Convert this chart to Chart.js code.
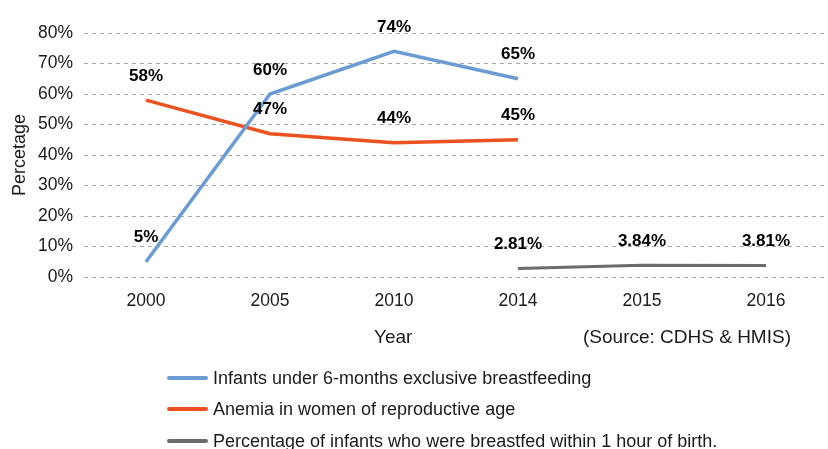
<!DOCTYPE html>
<html>
<head>
<meta charset="utf-8">
<script src="https://cdn.jsdelivr.net/npm/chart.js@4.4.1/dist/chart.umd.min.js"></script>
<style>
  body { margin: 0; background: #fff; font-family: "Liberation Sans", Arial, sans-serif; color: #1a1a1a; }
  #wrap { position: relative; width: 828px; height: 449px; }
  canvas { position: absolute; left: 0; top: 0; }
  .txt { position: absolute; font-size: 19px; white-space: nowrap; }
  .leg { position: absolute; left: 167px; font-size: 18px; white-space: nowrap; }
  .leg span { display: inline-block; width: 41px; height: 4px; border-radius: 2px; vertical-align: middle; margin-right: 5px; position: relative; top: -1px; }
</style>
</head>
<body>
<div id="wrap">
  <canvas id="chart" width="828" height="449"></canvas>
  <div class="txt" style="left:374px; top:326px;">Year</div>
  <div class="txt" style="left:583px; top:326px;">(Source: CDHS &amp; HMIS)</div>
  <div id="legend"></div>
</div>
<script>
const years = ["2000", "2005", "2010", "2014", "2015", "2016"];
const exclusiveBF = [5, 60, 74, 65, null, null];
const anemia = [58, 47, 44, 45, null, null];
const earlyBF = [null, null, null, 2.81, 3.84, 3.81];
const labelsBF = ["5%", "60%", "74%", "65%", "", ""];
const labelsAnemia = ["58%", "47%", "44%", "45%", "", ""];
const labelsEarly = ["", "", "", "2.81%", "3.84%", "3.81%"];

const seriesNames = [
  "Infants under 6-months exclusive breastfeeding",
  "Anemia in women of reproductive age",
  "Percentage of infants who were breastfed within 1 hour of birth."
];
const colors = ["#6A9BD3", "#EC5120", "#6B6B6B"];
const pointLabels = [labelsBF, labelsAnemia, labelsEarly];
const fontFam = "'Liberation Sans', Arial, sans-serif";

// data labels drawn above each point
const valueLabels = {
  id: "valueLabels",
  afterDatasetsDraw(chart) {
    const ctx = chart.ctx;
    ctx.save();
    ctx.font = "bold 17px " + fontFam;
    ctx.fillStyle = "#000";
    ctx.textAlign = "center";
    ctx.textBaseline = "middle";
    chart.data.datasets.forEach((ds, i) => {
      const meta = chart.getDatasetMeta(i);
      meta.data.forEach((pt, j) => {
        const txt = pointLabels[i][j];
        if (!txt || ds.data[j] == null) return;
        ctx.fillText(txt, pt.x, pt.y - 24);
      });
    });
    ctx.restore();
  }
};

const makeSet = (label, data, color, width) => ({
  label,
  data,
  borderColor: color,
  backgroundColor: color,
  borderWidth: width,
  pointRadius: 0,
  tension: 0,
  spanGaps: false
});

new Chart(document.getElementById("chart"), {
  type: "line",
  data: {
    labels: years,
    datasets: [
      makeSet(seriesNames[0], exclusiveBF, colors[0], 3.5),
      makeSet(seriesNames[1], anemia, colors[1], 3.5),
      makeSet(seriesNames[2], earlyBF, colors[2], 3)
    ]
  },
  options: {
    responsive: false,
    animation: false,
    layout: { padding: { top: 33, right: 0, left: 0, bottom: 0 } },
    plugins: { legend: { display: false }, tooltip: { enabled: false } },
    scales: {
      x: {
        offset: true,
        grid: { display: false, drawTicks: false },
        border: { display: false },
        ticks: { color: "#1a1a1a", font: { size: 17.5, family: fontFam }, padding: 14 },
        afterFit(scale) { scale.height = 449 - 277; }
      },
      y: {
        min: 0,
        max: 80,
        ticks: {
          stepSize: 10,
          color: "#1a1a1a",
          padding: 11,
          font: { size: 17.5, family: fontFam },
          callback: v => v + "%"
        },
        grid: { color: "#a8a8a8", drawTicks: false, lineWidth: 1, borderDash: [4, 4] },
        border: { display: false, dash: [4, 4] },
        title: { display: true, text: "Percetage", color: "#1a1a1a", font: { size: 18, family: fontFam }, padding: { top: 9, bottom: 2 } },
        afterFit(scale) { scale.width = 84; }
      }
    }
  },
  plugins: [valueLabels]
});

const legend = document.getElementById("legend");
const legTops = [368, 399, 431];
seriesNames.forEach((name, i) => {
  const row = document.createElement("div");
  row.className = "leg";
  row.style.top = legTops[i] + "px";
  row.innerHTML = `<span style="background:${colors[i]}"></span>${name}`;
  legend.appendChild(row);
});
</script>
</body>
</html>
